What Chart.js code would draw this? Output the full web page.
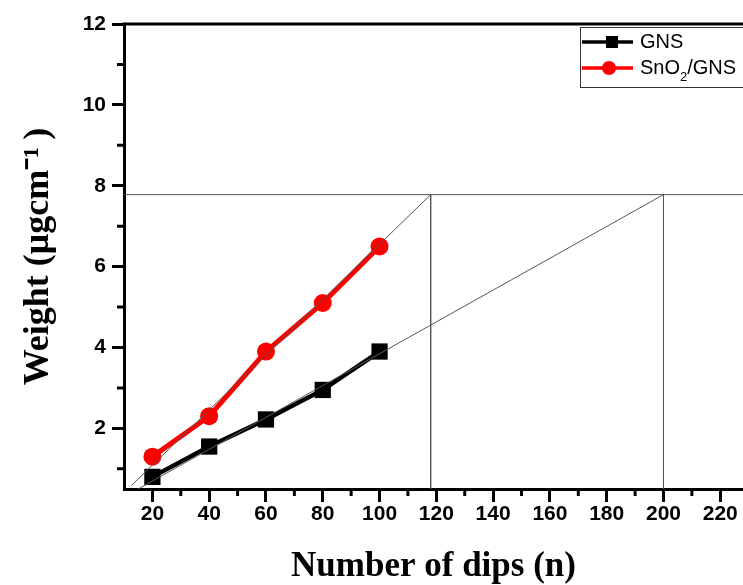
<!DOCTYPE html>
<html lang="en">
<head>
  <meta charset="UTF-8" />
  <title>Weight vs number of dips</title>
  <script src="https://cdn.jsdelivr.net/npm/chart.js"></script>
  <style>
    body { margin: 0; background: #fff; }
    .wrap { width: 743px; height: 585px; }
  </style>
</head>
<body>
  <div class="wrap"><canvas id="dipChart"></canvas></div>

<script>
// values
const dips = [20, 40, 60, 80, 100];
const gnsWeight = [0.8, 1.55, 2.22, 2.95, 3.9];
const snoWeight = [1.3, 2.3, 3.9, 5.1, 6.5];

const xTicks = [20, 40, 60, 80, 100, 120, 140, 160, 180, 200, 220];
const xMinor = [30, 50, 70, 90, 110, 130, 150, 170, 190, 210];
const yTicks = [2, 4, 6, 8, 10, 12];
const yMinor = [1, 3, 5, 7, 9, 11];

// thin guide lines (data coordinates)
const levelLine = [[10, 7.78], [228, 7.78]];
const fitSno = [[12.7, 0.59], [118, 7.78]];
const fitGns = [[15, 0.5], [200, 7.78]];
const dropSno = [[118, 7.78], [118, 0.5]];
const dropGns = [[200, 7.78], [200, 0.5]];

const toXY = (xs, ys) => xs.map((x, i) => ({ x: x, y: ys[i] }));
const pairs = arr => arr.map(p => ({ x: p[0], y: p[1] }));

const sans = 'Liberation Sans, Arial, sans-serif';
const serif = 'Liberation Serif, Times New Roman, serif';

function guide(pts) {
  return {
    label: '_guide',
    data: pairs(pts),
    borderColor: '#555',
    borderWidth: 1,
    pointRadius: 0,
    fill: false,
    order: 0
  };
}

// minor ticks + top frame line
const framePlugin = {
  id: 'frame',
  afterDraw(chart) {
    const ctx = chart.ctx;
    const a = chart.chartArea;
    const xs = chart.scales.x, ys = chart.scales.y;
    ctx.save();
    ctx.strokeStyle = '#000';
    ctx.lineWidth = 3;
    ctx.beginPath();
    ctx.moveTo(a.left - 1.5, a.top);
    ctx.lineTo(a.right, a.top);
    ctx.stroke();
    ctx.beginPath();
    xMinor.forEach(v => {
      const px = xs.getPixelForValue(v);
      ctx.moveTo(px, a.bottom);
      ctx.lineTo(px, a.bottom + 7);
    });
    yMinor.forEach(v => {
      const py = ys.getPixelForValue(v);
      ctx.moveTo(a.left, py);
      ctx.lineTo(a.left - 7, py);
    });
    ctx.stroke();
    ctx.restore();
  }
};

// legend box like the original
const legendPlugin = {
  id: 'boxLegend',
  afterDraw(chart) {
    const ctx = chart.ctx;
    const a = chart.chartArea;
    const left = a.right - 163, top = a.top + 3;
    ctx.save();
    ctx.fillStyle = '#fff';
    ctx.fillRect(left, top, 180, 60);
    ctx.strokeStyle = '#333';
    ctx.lineWidth = 1;
    ctx.strokeRect(left + 0.5, top + 0.5, 180, 60);

    const rows = [
      { y: top + 15, color: '#000', shape: 'rect' },
      { y: top + 41, color: '#ff0000', shape: 'circle' }
    ];
    rows.forEach(r => {
      ctx.strokeStyle = r.color;
      ctx.fillStyle = r.color;
      ctx.lineWidth = 3.5;
      ctx.beginPath();
      ctx.moveTo(left + 2, r.y);
      ctx.lineTo(left + 53, r.y);
      ctx.stroke();
      ctx.beginPath();
      if (r.shape === 'rect') {
        ctx.rect(left + 32 - 6, r.y - 6, 12, 12);
      } else {
        ctx.arc(left + 29, r.y, 7, 0, Math.PI * 2);
      }
      ctx.fill();
    });

    ctx.fillStyle = '#000';
    ctx.font = '20px ' + sans;
    ctx.textBaseline = 'middle';
    ctx.textAlign = 'left';
    const tx = left + 60;
    ctx.fillText('GNS', tx, rows[0].y);
    let x = tx;
    ctx.fillText('SnO', x, rows[1].y);
    x += ctx.measureText('SnO').width;
    ctx.font = '13px ' + sans;
    ctx.fillText('2', x, rows[1].y + 9);
    x += ctx.measureText('2').width;
    ctx.font = '20px ' + sans;
    ctx.fillText('/GNS', x, rows[1].y);
    ctx.restore();
  }
};

new Chart(document.getElementById('dipChart'), {
  type: 'line',
  data: {
    datasets: [
      guide(levelLine),
      guide(fitSno),
      guide(fitGns),
      guide(dropSno),
      guide(dropGns),
      {
        label: 'GNS',
        data: toXY(dips, gnsWeight),
        borderColor: '#000',
        backgroundColor: '#000',
        borderWidth: 4.5,
        pointStyle: 'rect',
        pointRadius: 11.5,
        pointBorderWidth: 0,
        tension: 0,
        order: 1
      },
      {
        label: 'SnO2/GNS',
        data: toXY(dips, snoWeight),
        borderColor: '#ff0000',
        backgroundColor: '#ff0000',
        borderWidth: 5,
        pointStyle: 'circle',
        pointRadius: 9,
        pointBorderWidth: 0,
        tension: 0,
        order: 1
      }
    ]
  },
  options: {
    responsive: true,
    maintainAspectRatio: false,
    animation: false,
    layout: { autoPadding: false, padding: { top: 24, right: 0, bottom: 0, left: 0 } },
    plugins: {
      legend: { display: false },
      tooltip: { enabled: false }
    },
    scales: {
      x: {
        type: 'linear',
        min: 10,
        max: 228,
        afterBuildTicks: s => { s.ticks = xTicks.map(v => ({ value: v })); },
        afterFit: s => { s.height = 96; s.paddingLeft = 0; s.paddingRight = 0; },
        border: { color: '#000', width: 3 },
        grid: { drawOnChartArea: false, tickLength: 13, tickWidth: 3, tickColor: '#000' },
        ticks: {
          color: '#000',
          autoSkip: false,
          maxRotation: 0,
          padding: 2,
          font: { family: sans, size: 21, weight: 'bold', lineHeight: 1 }
        },
        title: {
          display: true,
          text: 'Number of dips (n)',
          color: '#000',
          font: { family: serif, size: 35, weight: 'bold', lineHeight: 1 },
          padding: { top: 0, bottom: 1 }
        }
      },
      y: {
        type: 'linear',
        min: 0.5,
        max: 12,
        afterBuildTicks: s => { s.ticks = yTicks.map(v => ({ value: v })); },
        afterFit: s => { s.width = 124; s.paddingTop = 0; s.paddingBottom = 0; },
        border: { color: '#000', width: 3 },
        grid: { drawOnChartArea: false, tickLength: 12, tickWidth: 3, tickColor: '#000' },
        ticks: {
          color: '#000',
          padding: 6,
          font: { family: sans, size: 21, weight: 'bold', lineHeight: 1 }
        },
        title: {
          display: true,
          text: 'Weight (μgcm⁻¹\u2009)',
          color: '#000',
          font: { family: serif, size: 36, weight: 'bold', lineHeight: 1 },
          padding: { top: 21, bottom: 0 }
        }
      }
    }
  },
  plugins: [framePlugin, legendPlugin]
});
</script>
</body>
</html>
